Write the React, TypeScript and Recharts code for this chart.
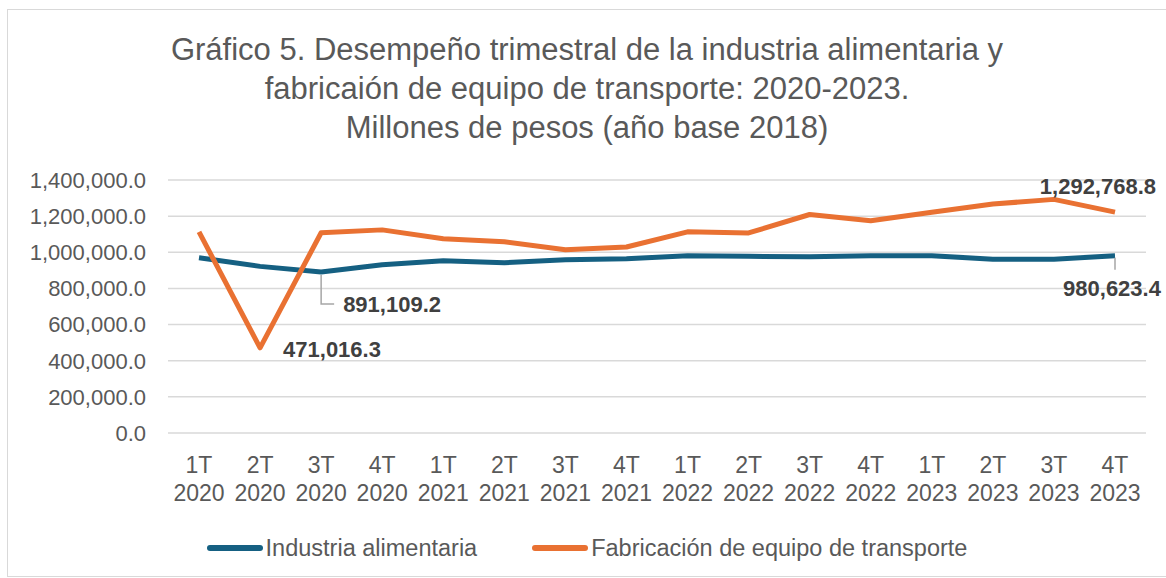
import { LineChart, Line, XAxis, YAxis, CartesianGrid, Legend, LabelList } from "recharts";

const quarters = ["1T", "2T", "3T", "4T", "1T", "2T", "3T", "4T", "1T", "2T", "3T", "4T", "1T", "2T", "3T", "4T"];
const years = ["2020", "2020", "2020", "2020", "2021", "2021", "2021", "2021", "2022", "2022", "2022", "2022", "2023", "2023", "2023", "2023"];

const alimentaria = [
  970000, 922000, 891109.2, 931000, 953000, 942000, 959000, 964000,
  981000, 978000, 975000, 981000, 981000, 962000, 962000, 980623.4,
];
const transporte = [
  1113000, 471016.3, 1108000, 1124000, 1075000, 1058000, 1014000, 1029000,
  1113000, 1107000, 1209000, 1174000, 1222000, 1267000, 1292768.8, 1222000,
];

const yTicks = [0, 200000, 400000, 600000, 800000, 1000000, 1200000, 1400000];

const data = quarters.map((q, i) => ({
  periodo: `${q}\n${years[i]}`,
  alimentaria: alimentaria[i],
  transporte: transporte[i],
}));

const FONT = "'Liberation Sans', Arial, sans-serif";
const BLUE = "#156082";
const ORANGE = "#E97132";
const TEXT = "#595959";
const LABEL = "#404040";

const fmt = (v: number) =>
  v.toLocaleString("en-US", { minimumFractionDigits: 1, maximumFractionDigits: 1 });

function XTick({ x, y, payload }: any) {
  const [q, yr] = String(payload.value).split("\n");
  return (
    <text textAnchor="middle" fill={TEXT} fontSize={23} fontFamily={FONT}>
      <tspan x={x} y={y + 32}>{q}</tspan>
      <tspan x={x} y={y + 60}>{yr}</tspan>
    </text>
  );
}

function AlimLabel({ x, y, index, value }: any) {
  if (index === 2) {
    return (
      <g>
        <polyline
          points={`${x},${y + 3} ${x},${y + 32} ${x + 13},${y + 32}`}
          fill="none"
          stroke="#a6a6a6"
          strokeWidth={1.5}
        />
        <text x={x + 22} y={y + 40} fill={LABEL} fontSize={22} fontWeight="bold" fontFamily={FONT}>
          {fmt(value)}
        </text>
      </g>
    );
  }
  if (index === 15) {
    return (
      <g>
        <line x1={x} y1={y + 2} x2={x} y2={y + 14} stroke="#a6a6a6" strokeWidth={1.5} />
        <text x={x - 3} y={y + 40} textAnchor="middle" fill={LABEL} fontSize={22} fontWeight="bold" fontFamily={FONT}>
          {fmt(value)}
        </text>
      </g>
    );
  }
  return null;
}

function TransLabel({ x, y, index, value }: any) {
  if (index === 1) {
    return (
      <text x={x + 23} y={y + 9} fill={LABEL} fontSize={22} fontWeight="bold" fontFamily={FONT}>
        {fmt(value)}
      </text>
    );
  }
  if (index === 14) {
    return (
      <text x={x + 44} y={y - 5} textAnchor="middle" fill={LABEL} fontSize={22} fontWeight="bold" fontFamily={FONT}>
        {fmt(value)}
      </text>
    );
  }
  return null;
}

function LegendContent() {
  const items = [
    { name: "Industria alimentaria", color: BLUE },
    { name: "Fabricación de equipo de transporte", color: ORANGE },
  ];
  return (
    <div style={{ display: "flex", justifyContent: "center", gap: 55, fontFamily: FONT, fontSize: 23.5, lineHeight: "28px", color: TEXT }}>
      {items.map((it) => (
        <div key={it.name} style={{ display: "flex", alignItems: "center" }}>
          <span style={{ display: "inline-block", width: 56, height: 6, borderRadius: 3, background: it.color, marginRight: 3 }} />
          <span>{it.name}</span>
        </div>
      ))}
    </div>
  );
}

export default function App() {
  return (
    <div style={{ position: "absolute", left: 0, top: 0, width: 1166, height: 578, background: "#fff", overflow: "hidden" }}>
      <div style={{ position: "absolute", left: 7, top: 9, width: 1170, height: 566, border: "1px solid #d9d9d9" }} />
      <div
        style={{
          position: "absolute",
          left: 0,
          top: 30,
          width: 1174,
          textAlign: "center",
          fontFamily: FONT,
          fontSize: 31,
          lineHeight: "39px",
          color: TEXT,
        }}
      >
        Gráfico 5. Desempeño trimestral de la industria alimentaria y
        <br />
        fabricaión de equipo de transporte: 2020-2023.
        <br />
        Millones de pesos (año base 2018)
      </div>
      <div style={{ position: "absolute", left: 0, top: 0 }}>
        <LineChart width={1166} height={578} data={data} margin={{ top: 180, right: 20, left: 0, bottom: 57 }}>
          <CartesianGrid vertical={false} stroke="#d9d9d9" strokeWidth={1.5} />
          <XAxis
            dataKey="periodo"
            axisLine={false}
            tickLine={false}
            interval={0}
            height={60}
            padding={{ left: 31, right: 31 }}
            tick={<XTick />}
          />
          <YAxis
            domain={[0, 1400000]}
            ticks={yTicks}
            width={168}
            axisLine={false}
            tickLine={false}
            tickMargin={16}
            tickFormatter={fmt}
            tick={{ fill: TEXT, fontSize: 22, fontFamily: FONT }}
          />
          <Legend
            verticalAlign="bottom"
            content={<LegendContent />}
            wrapperStyle={{ top: 534, left: 0, width: 1174, bottom: "auto" }}
          />
          <Line
            dataKey="alimentaria"
            name="Industria alimentaria"
            stroke={BLUE}
            strokeWidth={5}
            dot={false}
            strokeLinejoin="round"
            isAnimationActive={false}
          >
            <LabelList dataKey="alimentaria" content={<AlimLabel />} />
          </Line>
          <Line
            dataKey="transporte"
            name="Fabricación de equipo de transporte"
            stroke={ORANGE}
            strokeWidth={5}
            dot={false}
            strokeLinejoin="round"
            isAnimationActive={false}
          >
            <LabelList dataKey="transporte" content={<TransLabel />} />
          </Line>
        </LineChart>
      </div>
    </div>
  );
}
